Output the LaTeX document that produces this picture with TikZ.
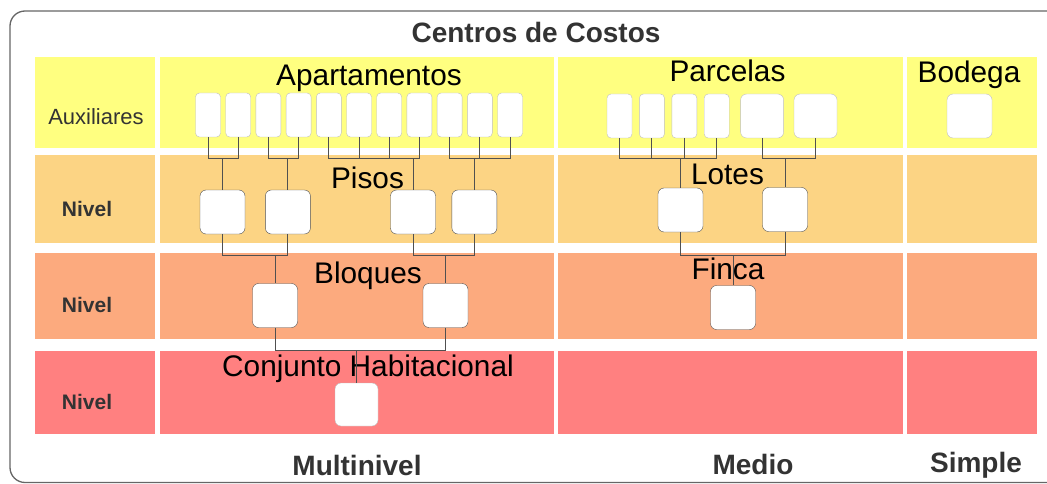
\documentclass[tikz,border=0pt]{standalone}
\usepackage{fontspec}
\setmainfont{Liberation Sans}
\usetikzlibrary{positioning}
\definecolor{auxcol}{RGB}{255,255,128}
\definecolor{nivA}{RGB}{252,212,132}
\definecolor{nivB}{RGB}{252,170,126}
\definecolor{nivC}{RGB}{255,128,128}
\definecolor{txtcol}{RGB}{51,51,51}
\definecolor{wirecol}{RGB}{80,80,80}
\definecolor{lightbd}{RGB}{190,190,190}
\tikzset{
    cell/.style = {anchor=north west, inner sep=0pt, outer sep=0pt, minimum height=#1},
    colL/.style = {minimum width=120pt},
    colM/.style = {minimum width=394pt},
    colD/.style = {minimum width=345pt},
    colS/.style = {minimum width=130pt},
    apt/.style = {draw=lightbd, fill=white, rounded corners=4pt, minimum width=25pt, minimum height=44pt, inner sep=0pt},
    wide/.style = {apt, minimum width=43pt, rounded corners=6pt},
    sq/.style = {draw=wirecol, fill=white, rounded corners=6pt, minimum width=45pt, minimum height=44pt, inner sep=0pt},
    sqlight/.style = {sq, draw=lightbd},
    grp/.style = {anchor=base, inner sep=0pt, font=\fontsize{29.8}{35}\selectfont},
    head/.style = {anchor=base, inner sep=0pt, text=txtcol, font=\fontsize{28}{33}\selectfont\bfseries},
    rowlab/.style = {anchor=base, inner sep=0pt, text=txtcol, font=\fontsize{21}{25}\selectfont\bfseries},
    wire/.style = {draw=wirecol, line width=1pt},
    frame/.style = {draw=black!60, line width=1.3pt, rounded corners=15pt}
}

\begin{document}
\begin{tikzpicture}[x=1pt, y=-1pt]
    \def\aptsep{4.8pt}
    \def\parsep{7pt}
    \def\joinA{159}
    \def\joinB{255}
    \def\joinC{350}
    \useasboundingbox (0,0) rectangle (1047,484);
    \draw[frame] (10,11) rectangle (1080,482.5);

    % rows of cells
    \node (cell10) [cell=91pt, colL, fill=auxcol] at (35,57) {};
    \node (cell11) [cell=91pt, colM, fill=auxcol] at (160,57) {};
    \node (cell12) [cell=91pt, colD, fill=auxcol] at (558,57) {};
    \node (cell13) [cell=91pt, colS, fill=auxcol] at (907,57) {};

    \node (cell20) [cell=88pt, colL, fill=nivA] at (35,155) {};
    \node (cell21) [cell=88pt, colM, fill=nivA] at (160,155) {};
    \node (cell22) [cell=88pt, colD, fill=nivA] at (558,155) {};
    \node (cell23) [cell=88pt, colS, fill=nivA] at (907,155) {};

    \node (cell30) [cell=86pt, colL, fill=nivB] at (35,253) {};
    \node (cell31) [cell=86pt, colM, fill=nivB] at (160,253) {};
    \node (cell32) [cell=86pt, colD, fill=nivB] at (558,253) {};
    \node (cell33) [cell=86pt, colS, fill=nivB] at (907,253) {};

    \node (cell40) [cell=83pt, colL, fill=nivC] at (35,351) {};
    \node (cell41) [cell=83pt, colM, fill=nivC] at (160,351) {};
    \node (cell42) [cell=83pt, colD, fill=nivC] at (558,351) {};
    \node (cell43) [cell=83pt, colS, fill=nivC] at (907,351) {};

    % texts
    \node (title) [head] at (536,43) {Centros de Costos};
    \node (multi) [head] at (357,475) {Multinivel};
    \node (medio) [head] at (753,474) {Medio};
    \node (simple) [head] at (976,472) {Simple};
    \node (auxl) [anchor=base, inner sep=0pt, text=txtcol, font=\fontsize{22}{26}\selectfont] at (96,125) {Auxiliares};
    \node (niv1) [rowlab] at (87,216) {Nivel};
    \node (niv2) [rowlab] at (87,312) {Nivel};
    \node (niv3) [rowlab] at (87,409) {Nivel};

    \node (tapart) [grp] at (369,86) {Apartamentos};
    \node (tparc) [grp] at (727.5,82) {Parcelas};
    \node (tbod) [grp] at (969,83) {Bodega};
    \node (tpisos) [grp] at (367.5,189) {Pisos};
    \node (tlotes) [grp] at (727.5,184) {Lotes};
    \node (tbloq) [grp] at (368,283) {Bloques};
    \node (tfinca) [grp] at (728,279) {Finca};
    \node (tconj) [grp] at (368,376) {Conjunto Habitacional};

    % apartamentos
    \node (a1) [apt] at (208,115) {};
    \node (a2) [apt, right=\aptsep of a1] {};
    \node (a3) [apt, right=\aptsep of a2] {};
    \node (a4) [apt, right=\aptsep of a3] {};
    \node (a5) [apt, right=\aptsep of a4] {};
    \node (a6) [apt, right=\aptsep of a5] {};
    \node (a7) [apt, right=\aptsep of a6] {};
    \node (a8) [apt, right=\aptsep of a7] {};
    \node (a9) [apt, right=\aptsep of a8] {};
    \node (a10) [apt, right=\aptsep of a9] {};
    \node (a11) [apt, right=\aptsep of a10] {};

    % pisos, bloques, conjunto
    \node (p1) [sq] at (222.5,212) {};
    \node (p2) [sq, right=20pt of p1] {};
    \node (p3) [sq] at (413,212) {};
    \node (p4) [sq, right=16pt of p3] {};
    \node (b1) [sq] at (275,305.5) {};
    \node (b2) [sq] at (445.5,305.5) {};
    \node (ch) [sqlight, minimum width=43pt, minimum height=43pt] at (356.5,404.5) {};

    % parcelas, lotes, finca
    \node (pa1) [apt] at (619.5,116) {};
    \node (pa2) [apt, right=\parsep of pa1] {};
    \node (pa3) [apt, right=\parsep of pa2] {};
    \node (pa4) [apt, right=\parsep of pa3] {};
    \node (pa5) [wide, right=11pt of pa4] {};
    \node (pa6) [wide, right=10pt of pa5] {};
    \node (l1) [sq] at (680.5,210) {};
    \node (l2) [sq] at (785,209.5) {};
    \node (fin) [sq] at (733,307.5) {};

    % bodega
    \node (bod) [sqlight] at (969.5,116) {};

    % joins
    \coordinate (jp1) at (p1.north |- 0,\joinA);
    \coordinate (jp2) at (p2.north |- 0,\joinA);
    \coordinate (jp3) at (p3.north |- 0,\joinA);
    \coordinate (jp4) at (p4.north |- 0,\joinA);
    \coordinate (jl1) at (l1.north |- 0,\joinA);
    \coordinate (jl2) at (l2.north |- 0,\joinA);
    \coordinate (jb1) at (b1.north |- 0,\joinB);
    \coordinate (jb2) at (b2.north |- 0,\joinB);
    \coordinate (jfin) at (fin.north |- 0,\joinB);
    \coordinate (jch) at (ch.north |- 0,\joinC);

    \draw[wire] (a1.south) |- (jp1) -- (p1.north);
    \draw[wire] (a2.south) |- (jp1);
    \draw[wire] (a3.south) |- (jp2) -- (p2.north);
    \draw[wire] (a4.south) |- (jp2);
    \draw[wire] (a5.south) |- (jp3) -- (p3.north);
    \draw[wire] (a6.south) |- (jp3);
    \draw[wire] (a7.south) |- (jp3);
    \draw[wire] (a8.south) |- (jp3);
    \draw[wire] (a9.south) |- (jp4) -- (p4.north);
    \draw[wire] (a10.south) |- (jp4);
    \draw[wire] (a11.south) |- (jp4);

    \draw[wire] (p1.south) |- (jb1) -- (b1.north);
    \draw[wire] (p2.south) |- (jb1);
    \draw[wire] (p3.south) |- (jb2) -- (b2.north);
    \draw[wire] (p4.south) |- (jb2);
    \draw[wire] (b1.south) |- (jch) -- (ch.north);
    \draw[wire] (b2.south) |- (jch);

    \draw[wire] (pa1.south) |- (jl1) -- (l1.north);
    \draw[wire] (pa2.south) |- (jl1);
    \draw[wire] (pa3.south) |- (jl1);
    \draw[wire] (pa4.south) |- (jl1);
    \draw[wire] (pa5.south) |- (jl2) -- (l2.north);
    \draw[wire] (pa6.south) |- (jl2);
    \draw[wire] (l1.south) |- (jfin) -- (fin.north);
    \draw[wire] (l2.south) |- (jfin);
\end{tikzpicture}
\end{document}
